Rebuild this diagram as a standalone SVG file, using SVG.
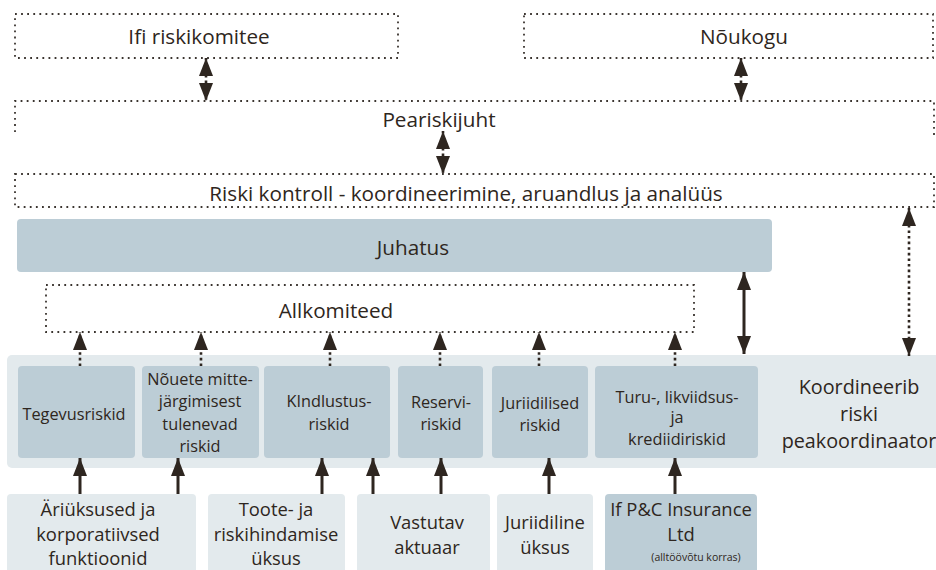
<svg xmlns="http://www.w3.org/2000/svg" width="936" height="570" viewBox="0 0 936 570">
<style>
text{font-family:"Open Sans","Noto Sans","DejaVu Sans",sans-serif;fill:#2e2620;text-anchor:middle}
.big{font-size:20.7px}
.koo{font-size:19.8px}
.bot{font-size:18.4px}
.mid{font-size:16.3px}
.sm{font-size:10.5px}
.dot{fill:none;stroke:#3a342f;stroke-width:1.8;stroke-dasharray:1.8 4.3}
.dk{fill:#bccdd6}
.lt{fill:#e3eaed}
.ca{stroke:#2e2620;stroke-width:3;fill:none}
.cd{stroke:#2e2620;stroke-width:2.6;fill:none;stroke-dasharray:2.6 3}
</style>
<defs>
<marker id="ah" viewBox="0 0 18 14" markerWidth="18" markerHeight="14" refX="18" refY="7" orient="auto-start-reverse" markerUnits="userSpaceOnUse">
<path d="M0,0 L18,7 L0,14 z" fill="#2e2620"/>
</marker>
</defs>

<g id="band"><rect class="lt" x="7" y="355" width="935" height="113" rx="5"/></g>

<g id="ifi-riskikomitee"><rect class="dot" x="15" y="14" width="383" height="44"/><text class="big" x="199" y="44">Ifi riskikomitee</text></g>
<g id="noukogu"><rect class="dot" x="524" y="14" width="409" height="44"/><text class="big" x="744" y="44">Nõukogu</text></g>
<g id="peariskijuht"><path class="dot" d="M15,132 V101 H934 V135"/><text class="big" x="439" y="127">Peariskijuht</text></g>
<g id="riski-kontroll"><rect class="dot" x="15" y="174" width="919" height="33"/><text class="big" x="466" y="201">Riski kontroll - koordineerimine, aruandlus ja analüüs</text></g>
<g id="juhatus"><rect class="dk" x="17" y="219" width="755" height="53" rx="4"/><text class="big" x="413" y="255">Juhatus</text></g>
<g id="allkomiteed"><rect class="dot" x="46" y="285" width="648" height="47"/><text class="big" x="336" y="318">Allkomiteed</text></g>

<g id="tegevusriskid"><rect class="dk" x="18" y="366" width="117" height="92" rx="4"/><text class="mid" x="74" y="420">Tegevusriskid</text></g>
<g id="nouete"><rect class="dk" x="142" y="366" width="117" height="92" rx="4"/><text class="mid" x="200" y="385">Nõuete mitte-</text><text class="mid" x="200" y="407">järgimisest</text><text class="mid" x="200" y="430">tulenevad</text><text class="mid" x="200" y="452">riskid</text></g>
<g id="kindlustusriskid"><rect class="dk" x="264" y="366" width="126" height="92" rx="4"/><text class="mid" x="329" y="407">KIndlustus-</text><text class="mid" x="329" y="430">riskid</text></g>
<g id="reserviriskid"><rect class="dk" x="398" y="366" width="85" height="92" rx="4"/><text class="mid" x="441" y="408">Reservi-</text><text class="mid" x="441" y="430">riskid</text></g>
<g id="juriidilised-riskid"><rect class="dk" x="492" y="366" width="96" height="92" rx="4"/><text class="mid" x="540" y="409">Juriidilised</text><text class="mid" x="540" y="431">riskid</text></g>
<g id="tururiskid"><rect class="dk" x="595" y="366" width="163" height="92" rx="4"/><text class="mid" x="677" y="403">Turu-, likviidsus-</text><text class="mid" x="677" y="423">ja</text><text class="mid" x="677" y="445">krediidiriskid</text></g>
<g id="koordineerib"><text class="koo" x="859" y="394">Koordineerib</text><text class="koo" x="859" y="421">riski</text><text class="koo" x="859" y="448">peakoordinaator</text></g>

<g id="ariuksused"><rect class="lt" x="7" y="494" width="189" height="90" rx="4"/><text class="bot" x="98" y="516">Äriüksused ja</text><text class="bot" x="98" y="541">korporatiivsed</text><text class="bot" x="98" y="565">funktioonid</text></g>
<g id="toote"><rect class="lt" x="208" y="494" width="137" height="90" rx="4"/><text class="bot" x="276" y="516">Toote- ja</text><text class="bot" x="276" y="541">riskihindamise</text><text class="bot" x="276" y="565">üksus</text></g>
<g id="vastutav"><rect class="lt" x="357" y="494" width="133" height="90" rx="4"/><text class="bot" x="427" y="529">Vastutav</text><text class="bot" x="427" y="554">aktuaar</text></g>
<g id="juriidiline-uksus"><rect class="lt" x="497" y="494" width="96" height="90" rx="4"/><text class="bot" x="545" y="529">Juriidiline</text><text class="bot" x="545" y="554">üksus</text></g>
<g id="ifpc"><rect class="dk" x="605" y="494" width="152" height="90" rx="4"/><text class="bot" x="681" y="516">If P&amp;C Insurance</text><text class="bot" x="681" y="541">Ltd</text><text class="sm" x="696" y="561">(alltöövõtu korras)</text></g>

<g id="connectors">
<line class="cd" x1="206" y1="58" x2="206" y2="101" marker-start="url(#ah)" marker-end="url(#ah)"/>
<line class="cd" x1="741" y1="58" x2="741" y2="101" marker-start="url(#ah)" marker-end="url(#ah)"/>
<line class="cd" x1="443" y1="131" x2="443" y2="174" marker-start="url(#ah)" marker-end="url(#ah)"/>
<line class="cd" x1="909" y1="208" x2="909" y2="356" marker-start="url(#ah)" marker-end="url(#ah)"/>
<line class="ca" x1="744" y1="272" x2="744" y2="354" marker-start="url(#ah)" marker-end="url(#ah)"/>
<line class="cd" x1="80" y1="366" x2="80" y2="332" marker-end="url(#ah)"/>
<line class="cd" x1="201" y1="366" x2="201" y2="332" marker-end="url(#ah)"/>
<line class="cd" x1="330" y1="366" x2="330" y2="332" marker-end="url(#ah)"/>
<line class="cd" x1="440" y1="366" x2="440" y2="332" marker-end="url(#ah)"/>
<line class="cd" x1="539" y1="366" x2="539" y2="332" marker-end="url(#ah)"/>
<line class="cd" x1="675" y1="366" x2="675" y2="332" marker-end="url(#ah)"/>
<line class="ca" x1="80" y1="494" x2="80" y2="458" marker-end="url(#ah)"/>
<line class="ca" x1="178" y1="494" x2="178" y2="458" marker-end="url(#ah)"/>
<line class="ca" x1="322" y1="494" x2="322" y2="458" marker-end="url(#ah)"/>
<line class="ca" x1="373" y1="494" x2="373" y2="458" marker-end="url(#ah)"/>
<line class="ca" x1="441" y1="494" x2="441" y2="458" marker-end="url(#ah)"/>
<line class="ca" x1="549" y1="494" x2="549" y2="458" marker-end="url(#ah)"/>
<line class="ca" x1="675" y1="494" x2="675" y2="458" marker-end="url(#ah)"/>
</g>
</svg>
